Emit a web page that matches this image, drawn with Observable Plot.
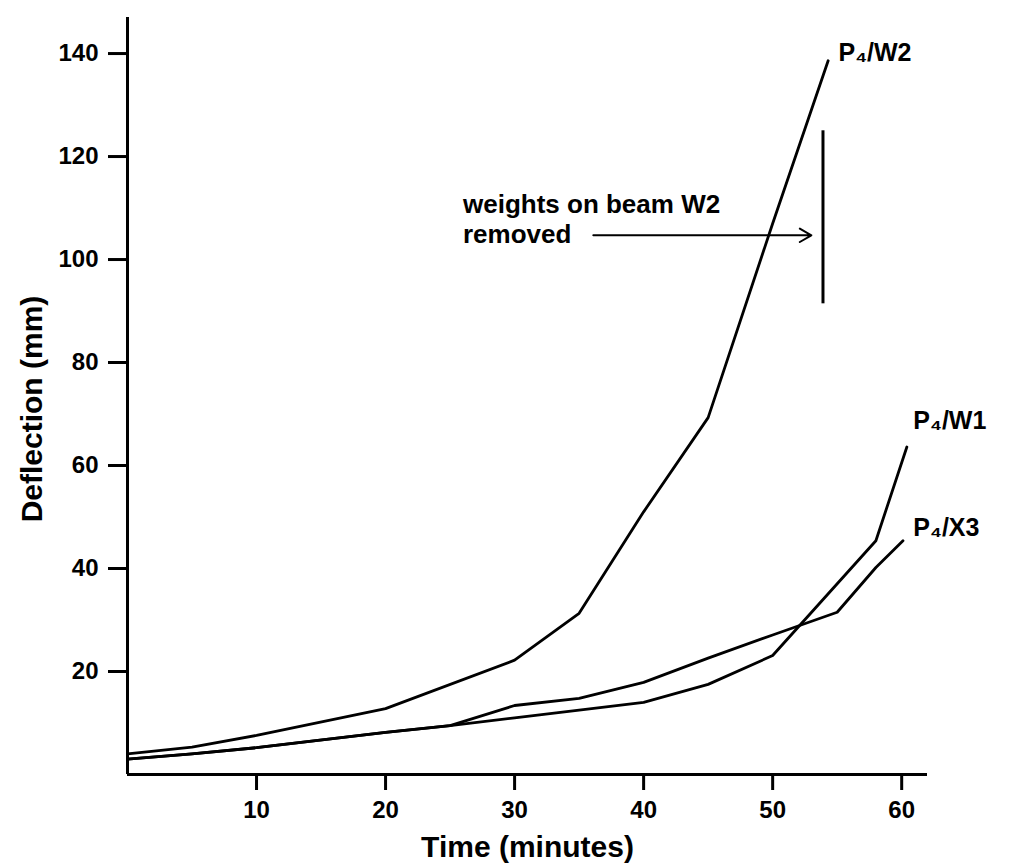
<!DOCTYPE html>
<html><head><meta charset="utf-8">
<script src="https://cdn.jsdelivr.net/npm/d3@7"></script>
<script src="https://cdn.jsdelivr.net/npm/@observablehq/plot@0.6"></script>
<style>body{margin:0;background:#fff} svg{display:block}</style>
</head><body><div id="chart"></div>
<script>
// Series: time (minutes) and deflection (mm)
const timeW2 = [0, 5, 10, 20, 30, 35, 40, 45, 50, 54.3];
const deflW2 = [4.0, 5.3, 7.6, 12.8, 22.2, 31.3, 51, 69.3, 107, 138.6];
const timeW1 = [0, 5, 10, 20, 25, 30, 35, 40, 45, 50, 58, 60.4];
const deflW1 = [3.0, 4.0, 5.2, 8.2, 9.5, 11.0, 12.5, 14.0, 17.5, 23.1, 45.4, 63.6];
const timeX3 = [0, 5, 10, 20, 25, 30, 35, 40, 45, 50, 55, 58, 60.1];
const deflX3 = [3.0, 4.0, 5.2, 8.2, 9.5, 13.4, 14.8, 17.9, 22.6, 27.1, 31.5, 40.2, 45.4];

const seriesNames = ["P₄/W2", "P₄/W1", "P₄/X3"];
const labelTime = [55.1, 60.9, 60.9];
const labelDefl = [140.2, 68.7, 47.8];

const xTicks = [10, 20, 30, 40, 50, 60];
const yTicks = [20, 40, 60, 80, 100, 120, 140];
const xTitle = "Time (minutes)";
const yTitle = "Deflection (mm)";

const noteText = "weights on beam W2\nremoved";
const noteTime = 26.0, noteDefl = 103.3;
const arrowFrom = 36.1, arrowTo = 53.0, arrowDefl = 104.7;
const removalTime = 53.9, removalLow = 91.4, removalHigh = 125;

const series = [[timeW2, deflW2], [timeW1, deflW1], [timeX3, deflX3]];
const rows = series.flatMap(([ts, ds], i) => ts.map((t, j) => ({s: seriesNames[i], t, d: ds[j]})));
const labels = seriesNames.map((s, i) => ({s, t: labelTime[i], d: labelDefl[i]}));

const font = "'Liberation Sans', Arial, Helvetica, sans-serif";

const chart = Plot.plot({
  width: 1016, height: 863,
  marginLeft: 127, marginRight: 89, marginTop: 17, marginBottom: 89,
  x: {domain: [0, 62]},
  y: {domain: [0, 147]},
  style: {fontFamily: font, fontWeight: "bold", fontSize: "24px", color: "black", background: "white"},
  marks: [
    Plot.axisX({ticks: xTicks, tickSize: 16, tickPadding: 10, strokeWidth: 3, fontSize: 24, label: null}),
    Plot.axisY({ticks: yTicks, tickSize: 19, tickPadding: 10, strokeWidth: 3, fontSize: 24, label: null}),
    Plot.ruleX([0], {strokeWidth: 3}),
    Plot.ruleY([0], {strokeWidth: 3}),
    Plot.line(rows, {x: "t", y: "d", z: "s", stroke: "black", strokeWidth: 2.8, strokeLinejoin: "round"}),
    Plot.text(labels, {x: "t", y: "d", text: "s", textAnchor: "start", lineAnchor: "middle", fontSize: 25}),
    Plot.text([noteText], {x: () => noteTime, y: () => noteDefl, text: d => d, textAnchor: "start", lineAnchor: "bottom", lineHeight: 1.12, fontSize: 26}),
    Plot.arrow([arrowDefl], {x1: () => arrowFrom, x2: () => arrowTo, y1: d => d, y2: d => d, strokeWidth: 2, headLength: 10, stroke: "black"}),
    Plot.ruleX([removalTime], {y1: removalLow, y2: removalHigh, strokeWidth: 3}),
    Plot.text([xTitle], {frameAnchor: "bottom", dy: 82, lineAnchor: "bottom", textAnchor: "middle", text: d => d, fontSize: 30}),
    Plot.text([yTitle], {frameAnchor: "left", rotate: -90, dx: -95, dy: 13, lineAnchor: "middle", textAnchor: "middle", text: d => d, fontSize: 30})
  ]
});
document.getElementById("chart").appendChild(chart);
</script>
</body></html>
